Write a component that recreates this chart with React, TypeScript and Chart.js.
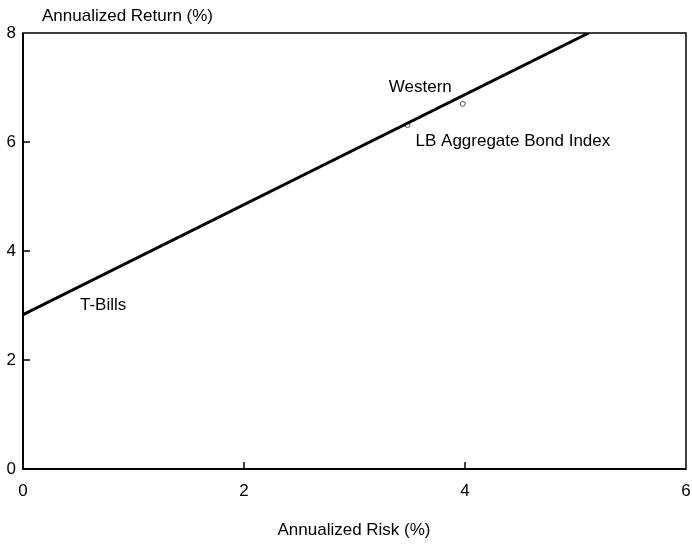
import React, { useEffect, useRef } from 'react';
import { Chart, registerables } from 'chart.js';
Chart.register(...registerables);

// Capital market line endpoints (risk %, return %)
const lineRisk = [0, 5.12];
const lineReturn = [2.83, 8];

// Labelled points
const pointNames = ['T-Bills', 'LB Aggregate Bond Index', 'Western'];
const pointRisk = [0, 3.48, 3.98];
const pointReturn = [2.83, 6.31, 6.7];
const pointRadii = [0, 2.5, 2.5];

const xTickValues = [0, 2, 4, 6];
const yTickValues = [0, 2, 4, 6, 8];

const xTitle = 'Annualized Risk (%)';
const yTitle = 'Annualized Return (%)';

const FONT = "'Liberation Sans', Arial, sans-serif";

// label offsets from their point, in pixels (style)
const labelOffsets = [
  { dx: 57, dy: -9 },
  { dx: 8, dy: 16 },
  { dx: -74, dy: -17 },
];

const decorPlugin = {
  id: 'decor',
  afterDraw(chart: any) {
    const { ctx, chartArea: a, scales } = chart;
    const xs = scales.x;
    const ys = scales.y;
    ctx.save();
    ctx.strokeStyle = '#000';
    ctx.lineWidth = 1.5;
    ctx.strokeRect(a.left, a.top, a.right - a.left, a.bottom - a.top);
    ctx.lineWidth = 2;
    ctx.beginPath();
    ctx.moveTo(a.left, a.top);
    ctx.lineTo(a.left, a.bottom);
    ctx.lineTo(a.right, a.bottom);
    ctx.stroke();
    // inward tick marks
    ctx.lineWidth = 1.5;
    ctx.beginPath();
    xTickValues.forEach((v) => {
      if (v === xs.min || v === xs.max) return;
      const px = xs.getPixelForValue(v);
      ctx.moveTo(px, a.bottom);
      ctx.lineTo(px, a.bottom - 7);
    });
    yTickValues.forEach((v) => {
      if (v === ys.min || v === ys.max) return;
      const py = ys.getPixelForValue(v);
      ctx.moveTo(a.left, py);
      ctx.lineTo(a.left + 7, py);
    });
    ctx.stroke();
    // point labels
    ctx.fillStyle = '#000';
    ctx.font = `17px ${FONT}`;
    ctx.textAlign = 'left';
    ctx.textBaseline = 'middle';
    pointNames.forEach((name, i) => {
      const px = xs.getPixelForValue(pointRisk[i]);
      const py = ys.getPixelForValue(pointReturn[i]);
      ctx.fillText(name, px + labelOffsets[i].dx, py + labelOffsets[i].dy);
    });
    // titles
    ctx.fillText(yTitle, 42, 16);
    ctx.textAlign = 'center';
    ctx.fillText(xTitle, 354, 530);
    ctx.restore();
  },
};

export default function App() {
  const ref = useRef<HTMLCanvasElement>(null);
  useEffect(() => {
    const chart = new Chart(ref.current!, {
      type: 'scatter',
      data: {
        datasets: [
          {
            type: 'line',
            data: lineRisk.map((x, i) => ({ x, y: lineReturn[i] })),
            borderColor: '#000',
            borderWidth: 3,
            pointRadius: 0,
            fill: false,
          } as any,
          {
            data: pointRisk.map((x, i) => ({ x, y: pointReturn[i] })),
            pointRadius: pointRadii,
            pointBackgroundColor: '#fff',
            pointBorderColor: '#555',
            pointBorderWidth: 1,
          },
        ],
      },
      options: {
        animation: false,
        responsive: false,
        layout: { padding: { top: 33, right: 6, left: 0, bottom: 0 } },
        plugins: { legend: { display: false }, tooltip: { enabled: false } },
        scales: {
          x: {
            type: 'linear',
            min: 0,
            max: 6,
            afterBuildTicks: (s: any) => {
              s.ticks = xTickValues.map((v) => ({ value: v }));
            },
            afterFit: (s: any) => {
              s.height = 77;
              s.paddingLeft = 0;
              s.paddingRight = 0;
            },
            ticks: {
              color: '#000',
              font: { family: FONT, size: 17 },
              padding: 12,
              maxRotation: 0,
              autoSkip: false,
            },
            grid: { display: false, drawTicks: false },
            border: { display: false },
          },
          y: {
            type: 'linear',
            min: 0,
            max: 8,
            afterBuildTicks: (s: any) => {
              s.ticks = yTickValues.map((v) => ({ value: v }));
            },
            afterFit: (s: any) => {
              s.width = 23;
              s.paddingTop = 0;
              s.paddingBottom = 0;
            },
            ticks: {
              color: '#000',
              font: { family: FONT, size: 17 },
              padding: 7,
            },
            grid: { display: false, drawTicks: false },
            border: { display: false },
          },
        },
      },
      plugins: [decorPlugin],
    });
    return () => chart.destroy();
  }, []);
  return (
    <canvas
      ref={ref}
      width={692}
      height={546}
      style={{ position: 'absolute', left: 0, top: 0, display: 'block', background: '#fff' }}
    />
  );
}
